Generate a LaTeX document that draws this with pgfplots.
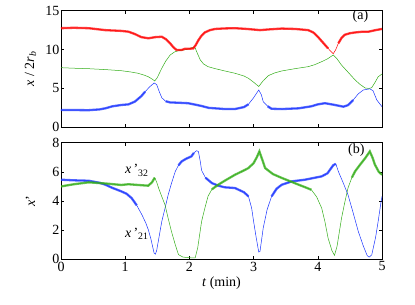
\documentclass[border=0pt]{standalone}
\usepackage{fontspec}
\setmainfont{Liberation Serif}
\usepackage{pgfplots}
\pgfplotsset{compat=1.18}
\usepackage{pgfplotstable}

\definecolor{cred}{rgb}{1,0,0}
\definecolor{cgreen}{rgb}{0.2,0.68,0.1}
\definecolor{cblue}{rgb}{0.1,0.2,1}

\pgfplotstableread{
t v
0 12.75
0.2 12.8
0.43 12.75
0.69 12.5
0.94 12.4
1.05 12.3
1.15 12.0
1.25 11.6
1.36 11.45
1.47 11.6
1.57 11.65
1.64 11.3
1.70 10.8
1.75 10.3
1.80 9.95
1.88 9.95
1.93 10.1
2.00 10.1
2.06 10.15
2.10 10.6
2.14 11.2
2.19 11.8
2.24 12.2
2.32 12.5
2.40 12.65
2.55 12.72
2.71 12.75
2.90 12.65
3.10 12.5
3.25 12.6
3.44 12.7
3.65 12.65
3.85 12.5
3.93 12.2
4.00 11.65
4.08 10.9
4.16 10.15
4.24 9.45
4.28 10.0
4.32 10.8
4.37 11.5
4.42 11.9
4.50 12.1
4.58 12.2
4.70 12.3
4.79 12.3
4.90 12.5
5.00 12.65
}\redtop

\pgfplotstableread{
t v
0 7.67
0.2 7.6
0.43 7.54
0.7 7.42
0.94 7.28
1.1 7.1
1.2 6.95
1.3 6.7
1.36 6.5
1.42 6.2
1.46 5.96
1.50 6.4
1.57 7.6
1.63 8.5
1.70 9.3
1.77 9.7
1.83 9.85
1.95 10.0
2.06 10.3
2.09 10.2
2.13 9.4
2.17 8.66
2.22 8.15
2.29 7.8
2.40 7.55
2.55 7.25
2.71 6.95
2.85 6.6
2.92 6.3
3.00 5.8
3.08 5.25
3.15 6.0
3.23 6.65
3.33 7.0
3.44 7.25
3.65 7.55
3.85 7.8
3.95 8.05
4.06 8.44
4.15 8.8
4.24 9.3
4.30 8.8
4.37 8.0
4.47 7.1
4.58 6.1
4.66 5.5
4.74 5.05
4.80 5.0
4.84 5.1
4.90 5.9
4.94 6.5
5.00 6.85
}\greentop

\pgfplotstableread{
t v
0 2.22
0.2 2.22
0.43 2.2
0.6 2.3
0.69 2.44
0.8 2.7
0.94 2.87
1.05 2.95
1.15 3.3
1.25 4.0
1.31 4.58
1.38 5.2
1.45 5.7
1.49 5.5
1.53 4.6
1.57 3.8
1.63 3.35
1.70 3.2
1.85 3.15
1.98 3.1
2.10 2.9
2.19 2.74
2.30 2.5
2.40 2.44
2.55 2.35
2.71 2.35
2.85 2.6
2.92 2.96
3.00 3.8
3.08 4.8
3.12 4.2
3.15 3.3
3.22 2.7
3.28 2.38
3.45 2.35
3.70 2.44
3.90 2.7
4.00 2.95
4.11 3.1
4.25 2.9
4.40 2.65
4.47 2.85
4.55 3.5
4.63 4.3
4.71 4.8
4.81 4.95
4.86 4.7
4.92 3.5
5.00 2.65
}\bluetop

\pgfplotstableread{
t v
0 5.46
0.2 5.42
0.43 5.39
0.6 5.25
0.69 5.12
0.8 4.9
0.94 4.66
1.02 4.5
1.10 4.2
1.18 3.7
1.26 3.06
1.32 2.5
1.36 2.03
1.40 1.4
1.45 0.43
1.47 0.35
1.49 0.6
1.53 1.6
1.57 2.6
1.62 3.5
1.67 4.43
1.72 5.2
1.78 6.03
1.83 6.45
1.88 6.72
1.95 6.9
2.03 7.06
2.07 7.3
2.11 7.45
2.14 7.4
2.17 6.7
2.19 6.1
2.25 5.6
2.35 5.23
2.45 5.05
2.55 4.94
2.71 4.89
2.85 4.6
2.92 4.32
2.97 3.5
3.00 2.6
3.04 1.5
3.08 0.5
3.10 0.55
3.15 2.15
3.21 3.4
3.28 4.32
3.36 4.85
3.44 5.12
3.6 5.35
3.80 5.46
4.06 5.69
4.15 5.9
4.24 6.45
4.28 6.55
4.32 6.03
4.40 5.2
4.47 4.43
4.55 3.2
4.63 1.92
4.71 0.9
4.77 0.25
4.80 0.15
4.84 0.3
4.90 1.5
4.94 2.6
4.98 3.8
5.00 4.32
}\bluebot

\pgfplotstableread{
t v
0 5.0
0.2 5.15
0.43 5.28
0.7 5.2
0.94 5.1
1.05 5.15
1.2 5.1
1.36 5.05
1.42 5.3
1.46 5.6
1.49 5.3
1.52 4.89
1.57 4.3
1.62 3.74
1.67 2.8
1.72 1.92
1.78 1.0
1.83 0.32
1.90 0.15
2.03 0.1
2.09 0.1
2.13 0.8
2.16 1.7
2.19 2.6
2.24 3.5
2.29 4.32
2.35 4.8
2.45 5.12
2.55 5.39
2.71 5.8
2.85 6.1
2.92 6.26
3.00 6.6
3.05 7.0
3.09 7.4
3.13 6.9
3.18 6.26
3.30 5.85
3.44 5.58
3.60 5.3
3.70 5.12
3.80 4.95
3.90 4.77
3.98 4.3
4.06 3.52
4.11 2.6
4.16 1.46
4.22 0.6
4.26 0.27
4.30 0.9
4.37 2.83
4.42 3.9
4.47 4.89
4.53 5.6
4.58 6.03
4.66 6.5
4.74 6.95
4.81 7.4
4.85 7.0
4.89 6.49
4.95 6.0
5.00 5.8
}\greenbot

\pgfplotsset{
  myaxis/.style={
    scale only axis, width=321pt, height=116.6pt,
    xmin=0, xmax=5, xtick={0,1,2,3,4,5},
    tick align=inside, major tick length=3pt,
    axis line style={line width=0.6pt}, every tick/.style={line width=0.5pt, black},
    ticklabel style={font=\fontsize{14}{16}\selectfont},
    /pgf/number format/assume math mode=true,
    label style={font=\fontsize{14}{16}\selectfont},
    yticklabel style={xshift=2pt},
    xticklabel style={yshift=1pt},
  },
  thin/.style={line width=0.5pt},
  fat/.style={line width=2.3pt, opacity=0.75},
}

\begin{document}
\begin{tikzpicture}
\path[use as bounding box] (0,0) rectangle (415pt,305pt);

\begin{axis}[myaxis, at={(61pt,177.7pt)}, anchor=south west,
  ymin=0, ymax=15, ytick={0,5,10,15}, xticklabels={},
  ylabel={\textit{x} / 2\textit{r}\textsubscript{\textit{b}}},
  ylabel style={at={(axis description cs:-0.095,0.5)}, anchor=center}]
\addplot[cgreen, thin] table {\greentop};
\addplot[cred, thin] table {\redtop};
\addplot[cred, fat, restrict x to domain=0:4.18] table {\redtop};
\addplot[cred, fat, restrict x to domain=4.30:5] table {\redtop};
\addplot[cblue, thin] table {\bluetop};
\addplot[cblue, fat, restrict x to domain=0:1.32] table {\bluetop};
\addplot[cblue, fat, restrict x to domain=1.6:2.93] table {\bluetop};
\addplot[cblue, fat, restrict x to domain=3.2:4.55] table {\bluetop};
\node[font=\fontsize{14}{16}\selectfont] at (axis cs:4.665,14.25) {(a)};
\end{axis}

\begin{axis}[myaxis, at={(61pt,45.7pt)}, anchor=south west,
  ymin=0, ymax=8, ytick={0,2,4,6,8},
  ylabel={\textit{x}'},
  ylabel style={at={(axis description cs:-0.095,0.5)}, anchor=center},
  xlabel={\textit{t} (min)},
  xlabel style={at={(axis description cs:0.5,-0.203)}, anchor=center}]
\addplot[cblue, thin] table {\bluebot};
\addplot[cblue, fat, restrict x to domain=0:1.2] table {\bluebot};
\addplot[cblue, fat, restrict x to domain=1.82:2.07] table {\bluebot};
\addplot[cblue, fat, restrict x to domain=2.2:2.93] table {\bluebot};
\addplot[cblue, fat, restrict x to domain=3.25:4.28] table {\bluebot};
\addplot[cgreen, thin] table {\greenbot};
\addplot[cgreen, fat, restrict x to domain=0:1.47] table {\greenbot};
\addplot[cgreen, fat, restrict x to domain=2.3:3.95] table {\greenbot};
\addplot[cgreen, fat, restrict x to domain=4.5:5] table {\greenbot};
\node[font=\fontsize{14}{16}\selectfont] at (axis cs:1.18,6.1) {\textit{x}\,'\textsubscript{32}};
\node[font=\fontsize{14}{16}\selectfont] at (axis cs:1.18,1.73) {\textit{x}\,'\textsubscript{21}};
\node[font=\fontsize{14}{16}\selectfont] at (axis cs:4.60,7.5) {(b)};
\end{axis}
\end{tikzpicture}
\end{document}
